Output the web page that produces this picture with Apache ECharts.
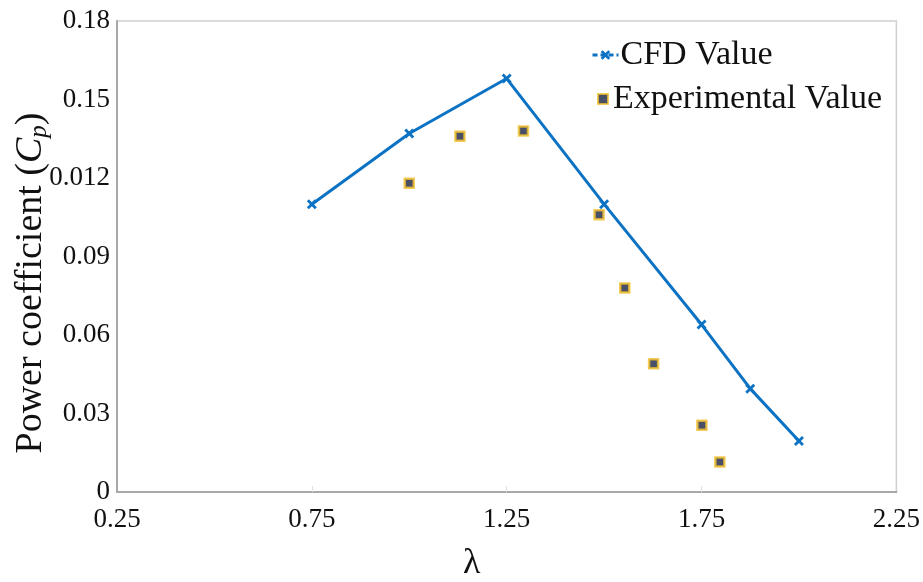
<!DOCTYPE html>
<html>
<head>
<meta charset="utf-8">
<script src="https://cdn.jsdelivr.net/npm/echarts@6/dist/echarts.min.js"></script>
<style>html,body{margin:0;padding:0;background:#fff}#c{width:923px;height:582px}</style>
</head>
<body>
<div id="c"></div>
<script>
const cfdX = [0.75, 1.0, 1.25, 1.5, 1.75, 1.875, 2.0];
const cfdY = [0.110, 0.137, 0.158, 0.110, 0.064, 0.0395, 0.0195];
const expX = [1.0, 1.13, 1.293, 1.487, 1.553, 1.627, 1.751, 1.797];
const expY = [0.118, 0.136, 0.138, 0.106, 0.078, 0.049, 0.0255, 0.0115];
const yTickValues = [0, 0.03, 0.06, 0.09, 0.12, 0.15, 0.18];
const yTickLabels = ['0', '0.03', '0.06', '0.09', '0.012', '0.15', '0.18'];
const xTickValues = [0.25, 0.75, 1.25, 1.75, 2.25];
const xTickLabels = ['0.25', '0.75', '1.25', '1.75', '2.25'];

const FONT = '"Liberation Serif", "DejaVu Serif", serif';
const crossPath = 'path://M0,2 L2,0 L5,3 L8,0 L10,2 L7,5 L10,8 L8,10 L5,7 L2,10 L0,8 L3,5 Z';

const chart = echarts.init(document.getElementById('c'));
chart.setOption({
  animation: false,
  backgroundColor: '#fff',
  grid: {left: 117, right: 19, top: 21, bottom: 90, show: true, borderColor: '#cfcfcf', borderWidth: 1.5, backgroundColor: 'transparent'},
  legend: [
    {
      orient: 'vertical', left: 586, top: 33, itemWidth: 26, itemHeight: 12, itemGap: 4,
      textStyle: {fontFamily: FONT, fontSize: 34, color: '#111', padding: [0, 0, 0, -3]},
      data: [{name: 'CFD Value', lineStyle: {type: [5, 3], width: 3}}]
    },
    {
      orient: 'vertical', left: 592, top: 77, itemWidth: 10, itemHeight: 10,
      textStyle: {fontFamily: FONT, fontSize: 34, color: '#111', padding: [0, 0, 0, 0]},
      data: [{name: 'Experimental Value'}]
    }
  ],
  xAxis: {
    type: 'value', min: 0.25, max: 2.25, interval: 0.25,
    axisLine: {show: true, lineStyle: {color: '#a8a8a8', width: 2}},
    axisTick: {show: true, inside: true, length: 6, lineStyle: {color: '#e0e0e0'}, customValues: [0.75, 1.25, 1.75]},
    splitLine: {show: false},
    axisLabel: {
      customValues: xTickValues, margin: 14, color: '#111', fontFamily: FONT, fontSize: 27,
      formatter: v => { const i = xTickValues.findIndex(t => Math.abs(t - v) < 1e-6); return i >= 0 ? xTickLabels[i] : ''; }
    }
  },
  yAxis: {
    type: 'value', min: 0, max: 0.18, interval: 0.03,
    axisLine: {show: true, lineStyle: {color: '#a8a8a8', width: 2}},
    axisTick: {show: false},
    splitLine: {show: false},
    axisLabel: {
      margin: 7, color: '#111', fontFamily: FONT, fontSize: 27,
      formatter: v => { const i = yTickValues.findIndex(t => Math.abs(t - v) < 1e-6); return i >= 0 ? yTickLabels[i] : ''; }
    }
  },
  graphic: [
    {type: 'text', left: 463, top: 546, style: {text: 'λ', fontFamily: FONT, fontSize: 36, fill: '#111'}},
    {
      type: 'text', x: 11, y: 283, rotation: Math.PI / 2,
      style: {
        text: 'Power coefficient ({i|C}{s|p})', fontFamily: FONT, fontSize: 38, fill: '#111',
        align: 'center', verticalAlign: 'top',
        rich: {
          i: {fontFamily: FONT, fontSize: 38, fontStyle: 'italic', fill: '#111'},
          s: {fontFamily: FONT, fontSize: 25, fontStyle: 'italic', fill: '#111', padding: [16, 0, 0, 0]}
        }
      }
    }
  ],
  series: [
    {
      name: 'CFD Value', type: 'line', data: cfdX.map((x, i) => [x, cfdY[i]]),
      symbol: crossPath, symbolSize: 10, showAllSymbol: true,
      lineStyle: {color: '#0b72c4', width: 3},
      itemStyle: {color: '#0b72c4'}
    },
    {
      name: 'Experimental Value', type: 'scatter', data: expX.map((x, i) => [x, expY[i]]),
      symbol: 'rect', symbolSize: 9,
      itemStyle: {color: '#1c2340', borderColor: '#f2c12e', borderWidth: 2.5}
    }
  ]
});
</script>
</body>
</html>
